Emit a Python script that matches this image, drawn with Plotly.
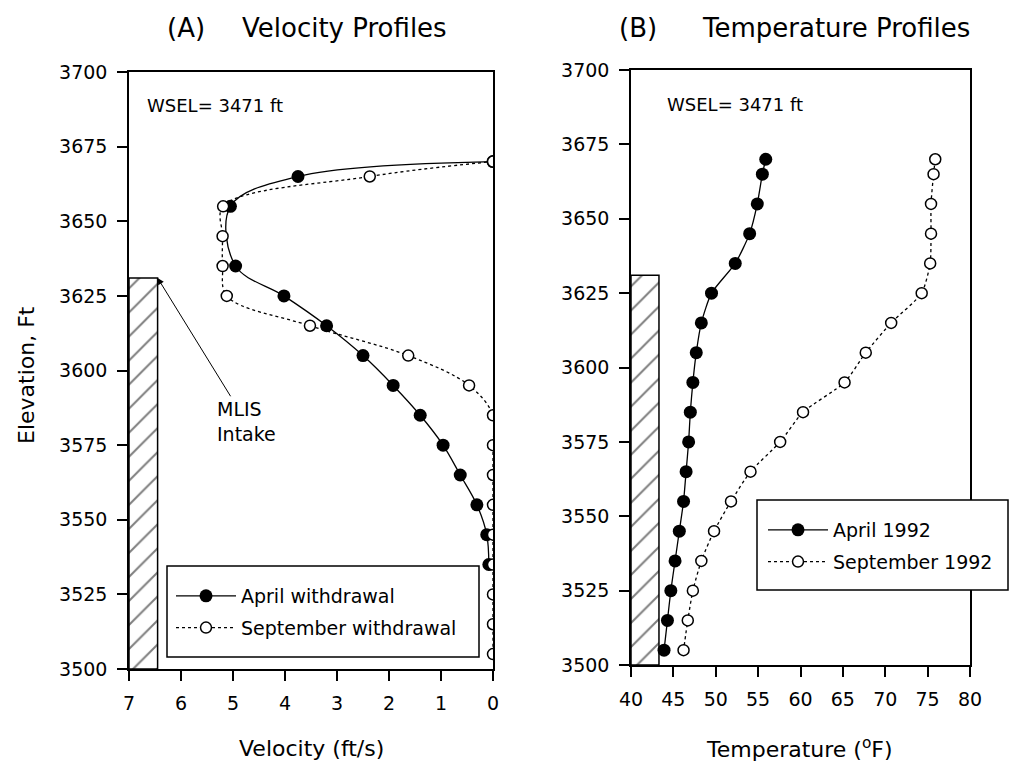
import plotly.graph_objects as go

# ---------------- data ----------------
vel_elev_april = [3670, 3665, 3655, 3635, 3625, 3615, 3605, 3595, 3585, 3575, 3565, 3555, 3545, 3535]
vel_april = [0.0, 3.75, 5.05, 4.95, 4.02, 3.2, 2.5, 1.92, 1.4, 0.96, 0.63, 0.31, 0.12, 0.08]

vel_elev_sep = [3670, 3665, 3655, 3645, 3635, 3625, 3615, 3605, 3595, 3585, 3575, 3565, 3555, 3545, 3535, 3525, 3515, 3505]
vel_sep = [0.0, 2.37, 5.19, 5.2, 5.2, 5.12, 3.52, 1.63, 0.46, 0.0, 0.0, 0.0, 0.0, 0.0, 0.0, 0.0, 0.0, 0.0]

temp_elev = [3670, 3665, 3655, 3645, 3635, 3625, 3615, 3605, 3595, 3585, 3575, 3565, 3555, 3545, 3535, 3525, 3515, 3505]
temp_april = [55.9, 55.5, 54.9, 54.0, 52.3, 49.5, 48.3, 47.7, 47.3, 47.0, 46.8, 46.5, 46.2, 45.7, 45.2, 44.7, 44.3, 43.9]
temp_sep = [75.9, 75.7, 75.4, 75.4, 75.3, 74.3, 70.7, 67.7, 65.2, 60.3, 57.6, 54.1, 51.8, 49.8, 48.3, 47.3, 46.7, 46.2]

intake_bottom = 3500
intake_top = 3631
intake_vel_span = [7.0, 6.45]
intake_temp_span = [40.0, 43.3]

vel_ticks = [0, 1, 2, 3, 4, 5, 6, 7]
temp_ticks = [40, 45, 50, 55, 60, 65, 70, 75, 80]
elev_ticks = [3500, 3525, 3550, 3575, 3600, 3625, 3650, 3675, 3700]

FONT = "DejaVu Sans"
W, H = 1013, 772


def px(x):
    return x / W


def py(y):
    return 1 - y / H


fig = go.Figure()


def intake(span, xa, ya):
    x0, x1 = span
    fig.add_trace(go.Scatter(
        x=[x0, x0, x1, x1, x0],
        y=[intake_bottom, intake_top, intake_top, intake_bottom, intake_bottom],
        mode="lines", fill="toself",
        fillcolor="white",
        fillpattern=dict(shape="/", fgcolor="black", bgcolor="white", size=17, solidity=0.12),
        line=dict(color="black", width=1.5),
        showlegend=False, hoverinfo="skip", xaxis=xa, yaxis=ya,
    ))


intake(intake_vel_span, "x", "y")
intake(intake_temp_span, "x2", "y2")

filled = dict(symbol="circle", size=13, color="black")
opened = dict(symbol="circle", size=11, color="white", line=dict(color="black", width=1.5))

fig.add_trace(go.Scatter(
    x=vel_april, y=vel_elev_april, mode="lines+markers", name="April withdrawal",
    line=dict(color="black", width=1.3, shape="spline", smoothing=1.0),
    marker=filled, xaxis="x", yaxis="y", legend="legend", legendgroup="a1",
))
fig.add_trace(go.Scatter(
    x=vel_sep, y=vel_elev_sep, mode="lines+markers", name="September withdrawal",
    line=dict(color="black", width=1.3, dash="dot", shape="spline", smoothing=1.0),
    marker=opened, xaxis="x", yaxis="y", legend="legend", legendgroup="a2",
))
fig.add_trace(go.Scatter(
    x=temp_april, y=temp_elev, mode="lines+markers", name="April 1992",
    line=dict(color="black", width=1.3, shape="spline", smoothing=0.6),
    marker=filled, xaxis="x2", yaxis="y2", legend="legend2", legendgroup="b1",
))
fig.add_trace(go.Scatter(
    x=temp_sep, y=temp_elev, mode="lines+markers", name="September 1992",
    line=dict(color="black", width=1.3, dash="dot", shape="spline", smoothing=0.6),
    marker=opened, xaxis="x2", yaxis="y2", legend="legend2", legendgroup="b2",
))

axis_common = dict(
    showline=True, linecolor="black", linewidth=1.5, mirror=True,
    ticks="outside", ticklen=10, tickwidth=1.5, tickcolor="black",
    showgrid=False, zeroline=False, automargin=False,
    tickfont=dict(family=FONT, size=19, color="black"),
)

legend_common = dict(
    xanchor="left", yanchor="top", bgcolor="rgba(0,0,0,0)", borderwidth=0,
    font=dict(family=FONT, size=19, color="black"),
    itemwidth=60, tracegroupgap=4,
)

fig.update_layout(
    width=W, height=H,
    margin=dict(l=0, r=0, t=0, b=0, autoexpand=False),
    paper_bgcolor="white", plot_bgcolor="white",
    xaxis=dict(domain=[px(129), px(493)], range=[7, 0], tickvals=vel_ticks,
               anchor="y", ticklabelstandoff=6, **axis_common),
    yaxis=dict(domain=[py(669), py(72)], range=[3500, 3700], tickvals=elev_ticks,
               anchor="x", ticklabelstandoff=6, **axis_common),
    xaxis2=dict(domain=[px(631), px(970)], range=[40, 80], tickvals=temp_ticks,
                anchor="y2", ticklabelstandoff=6, **axis_common),
    yaxis2=dict(domain=[py(665), py(70)], range=[3500, 3700], tickvals=elev_ticks,
                anchor="x2", ticklabelstandoff=6, **axis_common),
    legend=dict(x=px(171), y=py(577), **legend_common),
    legend2=dict(x=px(763), y=py(511), **legend_common),
    showlegend=True,
    shapes=[
        dict(type="rect", xref="paper", yref="paper", x0=px(167), x1=px(479), y0=py(657), y1=py(566),
             line=dict(color="black", width=1.5), fillcolor="white", layer="below"),
        dict(type="rect", xref="paper", yref="paper", x0=px(757), x1=px(1008), y0=py(590), y1=py(500),
             line=dict(color="black", width=1.5), fillcolor="white", layer="above"),
    ],
)

ann_font = dict(family=FONT, color="black")
annotations = [
    dict(text="(A)", x=px(165), y=py(28), xanchor="left", yanchor="middle", font=dict(size=26, **ann_font)),
    dict(text="Velocity Profiles", x=px(240), y=py(28), xanchor="left", yanchor="middle", font=dict(size=26, **ann_font)),
    dict(text="(B)", x=px(617), y=py(28), xanchor="left", yanchor="middle", font=dict(size=26, **ann_font)),
    dict(text="Temperature Profiles", x=px(700), y=py(28), xanchor="left", yanchor="middle", font=dict(size=26, **ann_font)),
    dict(text="Velocity (ft/s)", x=px(311), y=py(748), xanchor="center", yanchor="middle", font=dict(size=22, **ann_font)),
    dict(text="Temperature (<sup>o</sup>F)", x=px(799), y=py(748), xanchor="center", yanchor="middle", font=dict(size=22, **ann_font)),
    dict(text="Elevation, Ft", x=px(27), y=py(375), xanchor="center", yanchor="middle", textangle=-90, font=dict(size=22, **ann_font)),
    dict(text="WSEL= 3471 ft", x=px(145), y=py(105), xanchor="left", yanchor="middle", font=dict(size=18, **ann_font)),
    dict(text="WSEL= 3471 ft", x=px(665), y=py(104), xanchor="left", yanchor="middle", font=dict(size=18, **ann_font)),
]
for a in annotations:
    a.update(xref="paper", yref="paper", showarrow=False)

annotations.append(dict(
    text="MLIS<br>Intake", align="left",
    x=intake_vel_span[1], y=intake_top, xref="x", yref="y",
    ax=4.75, ay=3583, axref="x", ayref="y",
    showarrow=True, arrowhead=2, arrowsize=1.3, arrowwidth=1, arrowcolor="black",
    font=dict(size=19, **ann_font),
))
fig.update_layout(annotations=annotations)

fig.write_html("out.html")
